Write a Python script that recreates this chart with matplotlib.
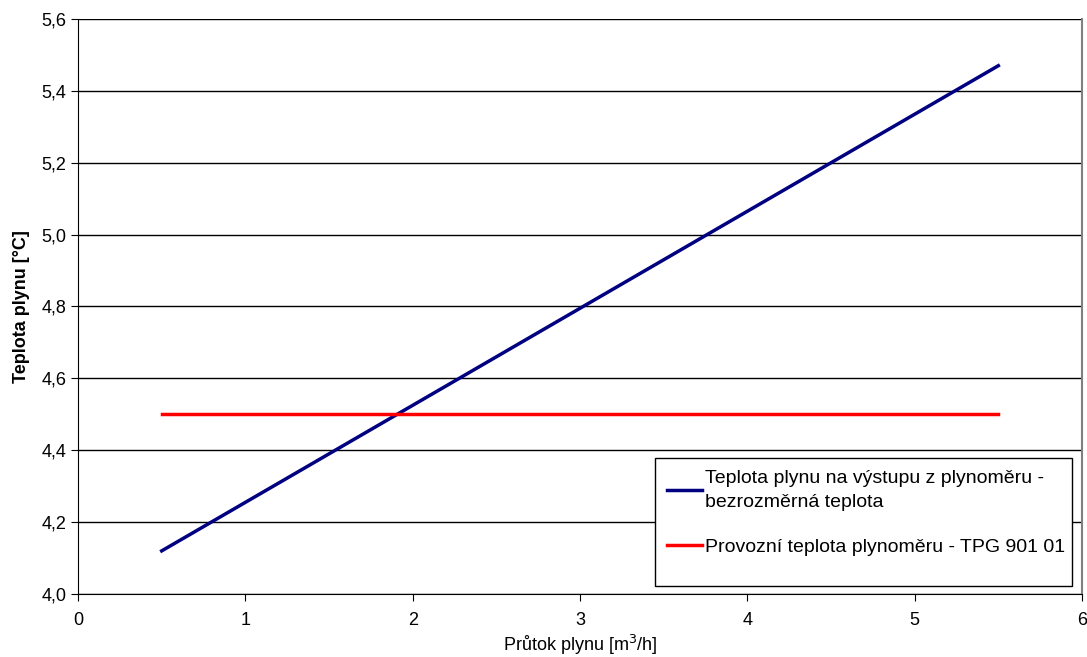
import numpy as np
import matplotlib
matplotlib.use("Agg")
import matplotlib.pyplot as plt
from matplotlib.patches import Rectangle
from matplotlib.ticker import FuncFormatter

flow = [0.5, 1.0, 1.5, 2.0, 2.5, 3.0, 3.5, 4.0, 4.5, 5.0, 5.5]
temp_out = [4.12, 4.255, 4.39, 4.525, 4.66, 4.795, 4.93, 5.065, 5.20, 5.335, 5.47]
temp_oper = [4.5] * len(flow)

label_out = "Teplota plynu na výstupu z plynoměru -\nbezrozměrná teplota"
label_oper = "Provozní teplota plynoměru - TPG 901 01"

plt.rcParams["font.family"] = ["Liberation Sans", "DejaVu Sans"]

fig = plt.figure(figsize=(10.87, 6.57), dpi=100)
ax = fig.add_axes([0.0718, 0.0959, 0.9236, 0.8752])

ax.plot(flow, temp_out, color="#000080", lw=2.5, label=label_out)
ax.plot(flow, temp_oper, color="#ff0000", lw=2.5, label=label_oper)

ax.set_xlim(0, 6)
ax.set_ylim(4.0, 5.6)
ax.set_xticks(np.arange(0, 7, 1))
ax.set_yticks(np.arange(4.0, 5.61, 0.2))
ax.yaxis.set_major_formatter(FuncFormatter(lambda v, p: f"{v:.1f}".replace(".", ",")))
ax.grid(True, axis="y", color="black", lw=1)
ax.set_axisbelow(True)
ax.tick_params(labelsize=13, length=5, direction="out")
ax.tick_params(axis="x", pad=8)

ax.spines["top"].set_visible(False)
ax.spines["right"].set_color("#808080")
ax.spines["right"].set_linewidth(1.5)

ax.set_xlabel("Průtok plynu [m$^3$/h]", fontsize=13, labelpad=3)
ax.set_ylabel("Teplota plynu [°C]", fontsize=13, fontweight="bold", labelpad=8)

# legend box (Excel style: extra space at the bottom)
ax.add_patch(Rectangle((0.5747, 0.0139), 0.4153, 0.2226, transform=ax.transAxes,
                       facecolor="white", edgecolor="black", lw=1, zorder=4))
leg = ax.legend(loc="upper left", bbox_to_anchor=(0.5747, 0.2365), fontsize=14,
                frameon=False, handlelength=1.8, handletextpad=0.15,
                labelspacing=1.4, borderpad=0.6, borderaxespad=0)
leg.set_zorder(5)
for t in leg.get_texts():
    t.set_linespacing(1.6)

fig.savefig("out.png", dpi=100)
